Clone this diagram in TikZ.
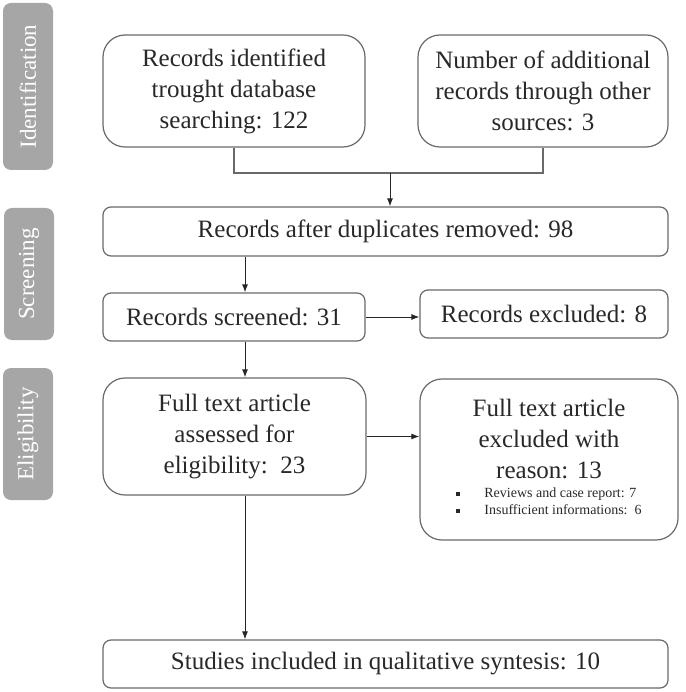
\documentclass[tikz,border=0pt]{standalone}
\usepackage{fontspec}
\setmainfont{Liberation Serif}
\usetikzlibrary{arrows.meta}
\definecolor{phasegrey}{RGB}{166,166,166}
\definecolor{linegrey}{RGB}{105,105,105}
\definecolor{textgrey}{RGB}{40,40,40}
\tikzset{box/.style = {draw=linegrey, line width=1.2pt, rounded corners=8pt,
                       align=center, text=textgrey, inner sep=0,
                       font=\fontsize{25}{31}\selectfont}}
\tikzset{tallbox/.style = {box, rounded corners=22pt}}
\tikzset{phase/.style = {fill=phasegrey, rounded corners=8pt, rotate=90,
                         text=white, inner sep=0, font=\fontsize{23}{27}\selectfont}}
\tikzset{wire/.style = {draw=linegrey, line width=1.2pt}}
\tikzset{arr/.style = {wire, draw=black!85, line width=1pt,
                       -{Latex[length=8pt,width=6pt]}}}
\newcommand{\sqbullet}{\rule[0.25ex]{4pt}{4pt}}

\begin{document}
\begin{tikzpicture}[x=1pt, y=-1pt]
          \useasboundingbox (0, 0) rectangle (685, 692);
          % phases
          \node [phase, minimum width=167, minimum height=50] (ident) at (28, 86.5) {Identification};
          \node [phase, minimum width=132, minimum height=50] (screen) at (29, 274) {Screening};
          \node [phase, minimum width=132, minimum height=50] (elig) at (28, 434) {Eligibility};
          % boxes
          \node [tallbox, minimum width=262, minimum height=112] (found) at (234, 91)
                {Records identified\\trought database\\searching: 122};
          \node [tallbox, minimum width=250, minimum height=112] (other) at (543, 91)
                {Number of additional\\records through other\\sources: 3};
          \node [box, minimum width=565, minimum height=49] (dupes) at (385.5, 231.5)
                {Records after duplicates removed: 98};
          \node [box, minimum width=262, minimum height=48] (screened) at (234, 317)
                {Records screened: 31};
          \node [box, minimum width=248, minimum height=48] (excl) at (544, 314)
                {Records excluded: 8};
          \node [tallbox, minimum width=263, minimum height=117] (full) at (234.5, 436.5)
                {Full text article\\assessed for\\eligibility:~~23};
          \node [tallbox, minimum width=258, minimum height=161] (fullexcl) at (549, 459.5)
                {Full text article\\excluded with\\reason: 13\\[-3pt]
                 {\fontsize{14}{17}\selectfont
                  \begin{tabular}{@{}c@{\hspace{24pt}}l@{}}
                    \sqbullet & Reviews and case report: 7\\
                    \sqbullet & Insufficient informations:~~6
                  \end{tabular}}};
          \node [box, minimum width=565, minimum height=48] (incl) at (385.5, 664)
                {Studies included in qualitative syntesis: 10};
          % connectors
          \coordinate (join) at (390, 173);
          \coordinate (lane) at (245, 0);
          \draw [wire] (found.south) |- (join) -| (other.south);
          \draw [arr] (join) -- (join |- dupes.north);
          \draw [arr] (lane |- dupes.south) -- (lane |- screened.north);
          \draw [arr] (screened.east) -- (screened.east -| excl.west);
          \draw [arr] (lane |- screened.south) -- (lane |- full.north);
          \draw [arr] (full.east) -- (full.east -| fullexcl.west);
          \draw [arr] (lane |- full.south) -- (lane |- incl.north);
        \end{tikzpicture}
\end{document}
